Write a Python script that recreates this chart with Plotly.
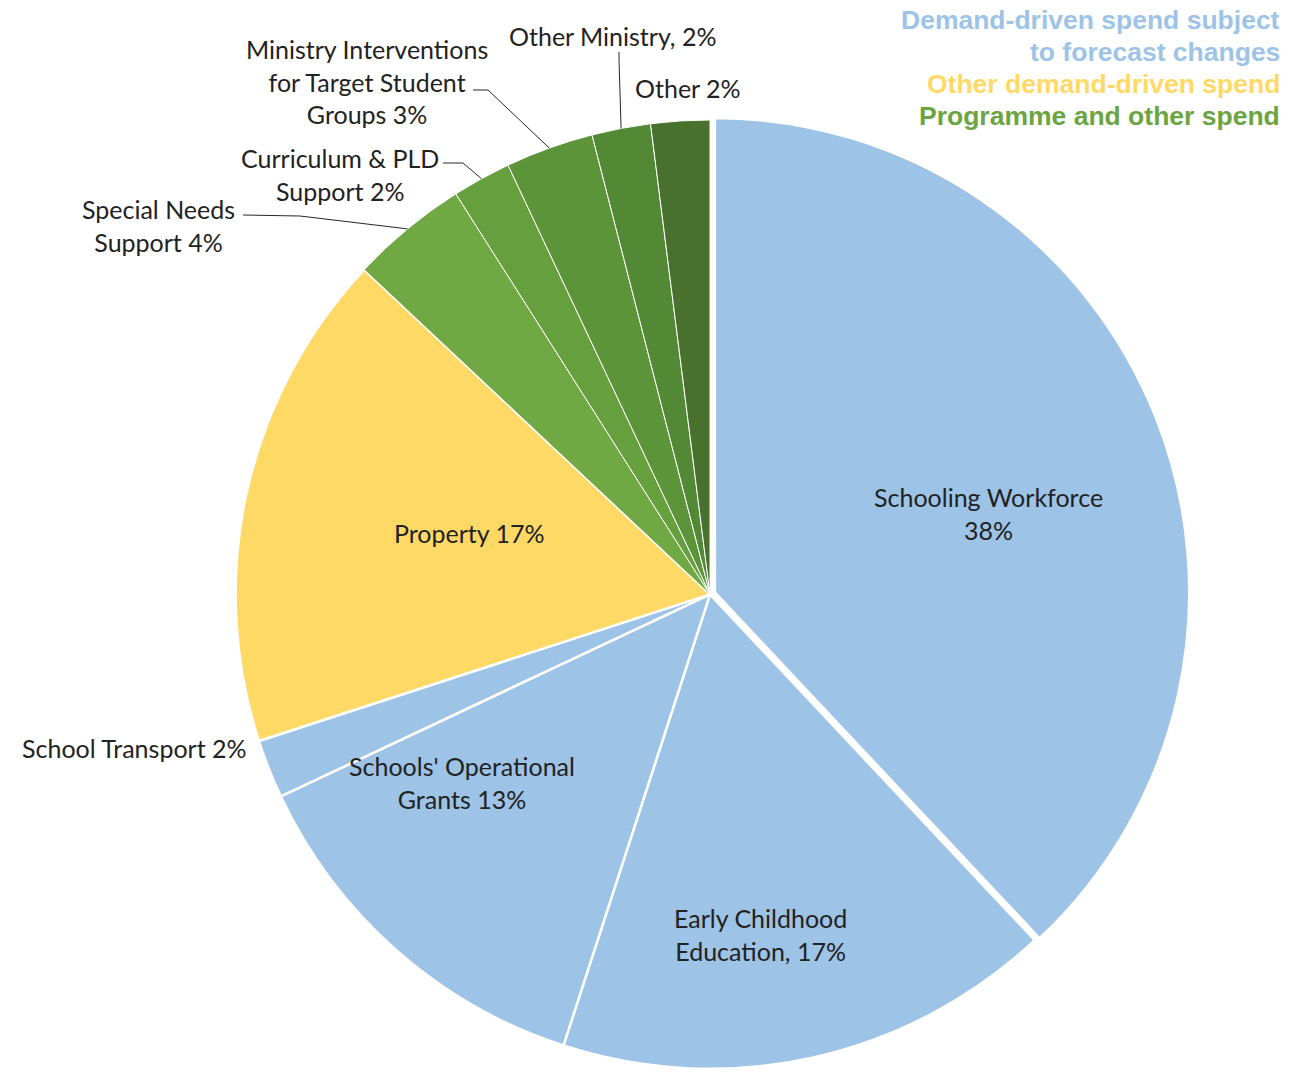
import math
import plotly.graph_objects as go

# Education spend breakdown (percent of total)
categories = [
    "Schooling Workforce", "Early Childhood Education", "Schools' Operational Grants",
    "School Transport", "Property", "Special Needs Support", "Curriculum & PLD Support",
    "Ministry Interventions for Target Student Groups", "Other Ministry", "Other",
]
shares = [38, 17, 13, 2, 17, 4, 2, 3, 2, 2]
groups = ["forecast", "forecast", "forecast", "forecast", "other_demand",
          "programme", "programme", "programme", "programme", "programme"]

# Slice labels (line breaks as drawn)
slice_labels = [
    "Schooling Workforce<br>38%", "Early Childhood<br>Education, 17%",
    "Schools' Operational<br>Grants 13%", "School Transport 2%", "Property 17%",
    "Special Needs<br>Support 4%", "Curriculum & PLD<br>Support 2%",
    "Ministry Interventions<br>for Target Student<br>Groups 3%",
    "Other Ministry, 2%", "Other 2%",
]

legend_lines = [
    ("Demand-driven spend subject", "#9DC3E6"),
    ("to forecast changes", "#9DC3E6"),
    ("Other demand-driven spend", "#FFD966"),
    ("Programme and other spend", "#6AA542"),
]

colors = ["#9DC3E6"] * 4 + ["#FFD966"] + ["#70A843", "#66A03E", "#5B9439", "#538834", "#47712C"]
line_widths = [2.5, 2.5, 2.5, 2.5, 2.5, 1, 1, 1, 1, 1]
pulls = [0.011, 0, 0, 0, 0, 0, 0, 0, 0, 0]

W, H = 1309, 1074
CX, CY, R = 710, 594.5, 474.5  # pie centre and radius in pixels
box = 2 * R * (1 + max(pulls))
dom_x = [(CX - box / 2) / W, (CX + box / 2) / W]
dom_y = [max(0.0, (H - CY - box / 2) / H), (H - CY + box / 2) / H]

fig = go.Figure(go.Pie(
    labels=categories, values=shares, sort=False, direction="clockwise", rotation=0,
    marker=dict(colors=colors, line=dict(color="white", width=line_widths)),
    pull=pulls, textinfo="none", hoverinfo="label+percent",
    domain=dict(x=dom_x, y=dom_y),
))

LABEL_FONT = dict(family="Lato, Carlito, Calibri, sans-serif", size=25, color="#222222")


def px(x, y):
    return x / W, 1 - y / H


def rim_point(i, frac=1.0):
    total = sum(shares)
    mid = (sum(shares[:i]) + shares[i] / 2) / total * 2 * math.pi
    return CX + R * frac * math.sin(mid), CY - R * frac * math.cos(mid)


# label placements: (x, y, xanchor)
label_pos = {
    0: (988, 513, "center"),
    1: (760, 934, "center"),
    2: (462, 782, "center"),
    3: (249, 748, "right"),
    4: (469, 533, "center"),
    5: (158, 226, "center"),
    6: (340, 174, "center"),
    7: (367, 81, "center"),
    8: (612, 36, "center"),
    9: (688, 88, "center"),
}

annotations = []
for i, (x, y, anchor) in label_pos.items():
    ax, ay = px(x, y)
    annotations.append(dict(
        x=ax, y=ay, xref="paper", yref="paper", text=slice_labels[i], showarrow=False,
        xanchor=anchor, yanchor="middle", align="center", font=LABEL_FONT,
    ))

# leader lines from outside labels to the rim
leaders = {
    5: [(243, 215), (300, 216)],
    6: [(443, 163), (463, 163)],
    7: [(473, 90), (488, 90)],
    8: [(619, 52), (619, 60)],
}
shapes = []
for i, pts in leaders.items():
    pts = pts + [rim_point(i)]
    path = "M " + " L ".join(f"{px(x, y)[0]},{px(x, y)[1]}" for x, y in pts)
    shapes.append(dict(type="path", path=path, xref="paper", yref="paper",
                       line=dict(color="#262626", width=1)))

# group key, top right
for k, (text, col) in enumerate(legend_lines):
    ax, ay = px(1282, 20 + 32 * k)
    annotations.append(dict(
        x=ax, y=ay, xref="paper", yref="paper", text=f"<b>{text}</b>", showarrow=False,
        xanchor="right", yanchor="middle",
        font=dict(family="Liberation Sans, Arial, sans-serif", size=26.5, color=col),
    ))

fig.update_layout(
    width=W, height=H, margin=dict(l=0, r=0, t=0, b=0),
    paper_bgcolor="white", plot_bgcolor="white", showlegend=False,
    annotations=annotations, shapes=shapes,
)

fig.write_html("out.html")
